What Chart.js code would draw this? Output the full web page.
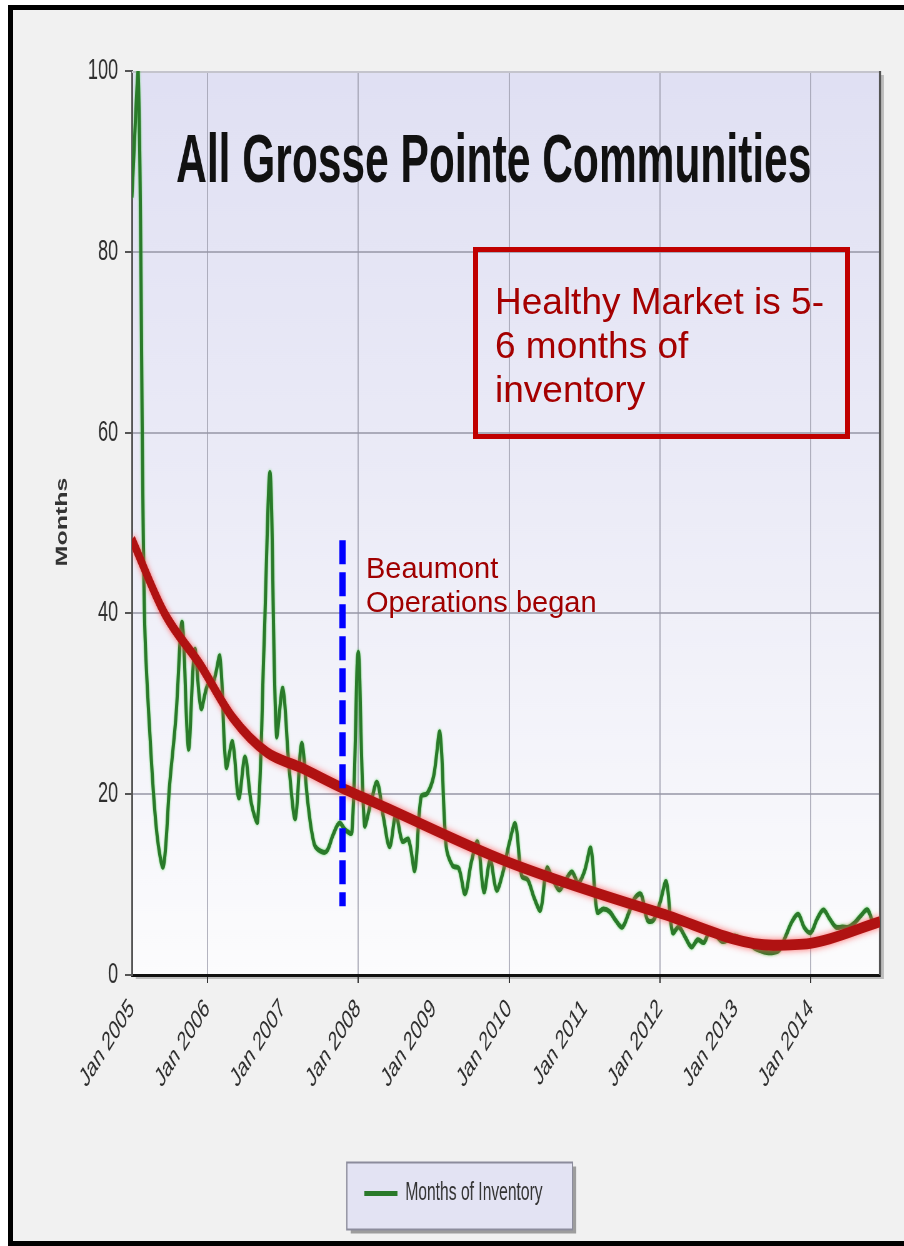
<!DOCTYPE html>
<html>
<head>
<meta charset="utf-8">
<script src="https://cdn.jsdelivr.net/npm/chart.js@4.4.1/dist/chart.umd.min.js"></script>
<style>
html,body{margin:0;padding:0;width:904px;height:1246px;overflow:hidden;background:#ffffff;}
#frame{position:absolute;left:8px;top:5px;width:910px;height:1241px;border:5px solid #000;border-right:none;background:#f1f1f1;box-sizing:border-box;}
#wrap{position:absolute;left:0;top:0;width:1446px;height:1246px;transform:scaleX(0.625);transform-origin:0 0;}
#note{position:absolute;left:473px;top:247px;width:377px;height:192px;border:5px solid #c00000;box-sizing:border-box;}
#noteText{position:absolute;left:495px;top:280px;font:37px/44px "Liberation Sans",Arial,sans-serif;color:#a50000;white-space:nowrap;}
#beau{position:absolute;left:366px;top:551px;font:29px/34.4px "Liberation Sans",Arial,sans-serif;color:#a00000;white-space:nowrap;}
</style>
</head>
<body>
<div id="frame"></div>
<div id="wrap"><canvas id="c" width="1446" height="1246" style="width:1446px;height:1246px"></canvas></div>
<div id="note"></div>
<div id="noteText">Healthy Market is 5-<br>6 months of<br>inventory</div>
<div id="beau">Beaumont<br>Operations began</div>
<script>
// ---------------- DATA ----------------
const chartTitle = 'All Grosse Pointe Communities';
const seriesName = 'Months of Inventory';
const yAxisTitle = 'Months';
// monthly months-of-inventory, Jan 2005 (index 0) ... Dec 2014
const inventory = [
  86, 100, 40, 25, 15.5, 12, 21, 28.5, 39, 25,
  36, 29.5, 32, 32.5, 35.2, 23, 25.8, 19.6, 24.1, 19,
  17, 36, 55.5, 26.5, 31.7, 23, 17.3, 25.6, 19, 14.5,
  13.7, 13.7, 15.5, 16.8, 16, 15.8, 35.7, 16.6, 19, 21.3,
  17.5, 14.2, 17.7, 14.8, 15, 11.6, 19.7, 20.1, 22, 26.8,
  14.2, 12.1, 11.8, 9, 12.5, 14.7, 9.2, 12.7, 9.4, 11.3,
  14.5, 16.7, 11, 10.5, 8.5, 7.2, 11.8, 10.5, 9.4, 10.5,
  11.4, 10.2, 11.5, 14, 7, 7.3, 7, 6, 5.3, 6.8,
  8.5, 8.9, 6.1, 6.1, 8, 10.3, 4.7, 5.3, 4.2, 3.1,
  3.9, 3.6, 5, 4.3, 3.7, 4, 4.3, 3.9, 3.6, 3,
  2.7, 2.5, 2.5, 2.8, 4.3, 5.9, 6.7, 5.2, 4.7, 6.2,
  7.2, 6.2, 5.3, 5.3, 5.3, 5.8, 6.6, 7.2, 5.8, 6
];
// hand-drawn trend curve (month index, months)
const trendMonths = [0, 5.2, 10.8, 16.1, 21.5, 26.7, 33.1, 39.5, 59.8, 83.8, 102, 107.9, 119];
const trendValues = [48.2, 40, 34.4, 28.4, 24.6, 23.0, 20.8, 18.8, 12.5, 6.9, 3.3, 3.5, 5.9];
// "Beaumont Operations began" marker
const beaumontMonth = 33.5;
const beaumontRange = [48.1, 7.6];
// x-axis ticks
const tickMonths = [0, 12, 24, 36, 48, 60, 72, 84, 96, 108];
const tickLabels = ['Jan 2005', 'Jan 2006', 'Jan 2007', 'Jan 2008', 'Jan 2009', 'Jan 2010', 'Jan 2011', 'Jan 2012', 'Jan 2013', 'Jan 2014'];
const yTicks = [0, 20, 40, 60, 80, 100];

// ---------------- STYLE ----------------
const FONT = '"Liberation Sans", Arial, sans-serif';
const GREEN = '#2a7a2a';
const RED = '#b01212';
const BLUE = '#0000ff';

const decorPlugin = {
  id: 'decor',
  beforeDraw(chart) {
    const {ctx, chartArea: a} = chart;
    ctx.save();
    ctx.fillStyle = 'rgba(0,0,0,0.22)';
    ctx.fillRect(a.left + 6, a.top + 4, a.right - a.left, a.bottom - a.top);
    const g = ctx.createLinearGradient(0, a.top, 0, a.bottom);
    g.addColorStop(0, '#e0e0f3');
    g.addColorStop(0.45, '#ebebf7');
    g.addColorStop(1, '#fcfcfd');
    ctx.fillStyle = g;
    ctx.fillRect(a.left, a.top, a.right - a.left, a.bottom - a.top);
    const lg = chart.legend;
    if (lg && lg.legendHitBoxes && lg.legendHitBoxes.length) {
      const hb = lg.legendHitBoxes[0];
      const x0 = hb.left - 28, x1 = hb.left + hb.width + 48;
      const cy = hb.top + hb.height / 2;
      const y0 = cy - 31, y1 = cy + 36;
      ctx.fillStyle = 'rgba(0,0,0,0.35)';
      ctx.fillRect(x0 + 6, y0 + 4, x1 - x0, y1 - y0);
      ctx.fillStyle = '#e3e3f3';
      ctx.fillRect(x0, y0, x1 - x0, y1 - y0);
      ctx.strokeStyle = '#8c8c9c';
      ctx.lineWidth = 2;
      ctx.strokeRect(x0, y0, x1 - x0, y1 - y0);
    }
    ctx.restore();
  },
  beforeDatasetsDraw(chart) {
    const {ctx, chartArea: a} = chart;
    ctx.save();
    ctx.strokeStyle = '#c4c4cc';
    ctx.lineWidth = 2;
    ctx.beginPath(); ctx.moveTo(a.left, a.top + 1); ctx.lineTo(a.right, a.top + 1); ctx.stroke();
    ctx.strokeStyle = '#555';
    ctx.lineWidth = 4;
    ctx.beginPath(); ctx.moveTo(a.right, a.top); ctx.lineTo(a.right, a.bottom); ctx.stroke();
    ctx.fillStyle = '#111';
    ctx.font = 'bold 68px ' + FONT;
    ctx.textAlign = 'center';
    ctx.textBaseline = 'alphabetic';
    ctx.fillText(chartTitle, 790, 182);
    ctx.translate(100, 522);
    ctx.rotate(-Math.PI / 2);
    ctx.font = 'bold 25px ' + FONT;
    ctx.textBaseline = 'middle';
    ctx.fillStyle = '#333';
    ctx.fillText(yAxisTitle, 0, 0);
    ctx.restore();
  },
  beforeDatasetDraw(chart, args) {
    const ctx = chart.ctx;
    ctx.save();
    if (args.index === 1) { ctx.shadowColor = 'rgba(255,80,80,0.85)'; ctx.shadowBlur = 7; }
    if (args.index === 2) { ctx.shadowColor = 'rgba(70,210,70,0.8)'; ctx.shadowBlur = 3; }
  },
  afterDatasetDraw(chart) {
    chart.ctx.restore();
  }
};

const ctx = document.getElementById('c').getContext('2d');
new Chart(ctx, {
  type: 'line',
  data: {
    datasets: [
      {
        label: 'Beaumont',
        data: beaumontRange.map(v => ({x: beaumontMonth, y: v})),
        borderColor: BLUE,
        borderWidth: 10,
        borderDash: [24, 8],
        borderCapStyle: 'butt',
        pointRadius: 0,
        fill: false
      },
      {
        label: 'Trend',
        data: trendMonths.map((m, i) => ({x: m, y: trendValues[i]})),
        borderColor: RED,
        borderWidth: 11,
        cubicInterpolationMode: 'monotone',
        pointRadius: 0,
        fill: false
      },
      {
        label: seriesName,
        data: inventory.map((v, i) => ({x: i, y: v})),
        borderColor: GREEN,
        backgroundColor: GREEN,
        borderWidth: 5,
        tension: 0.35,
        pointRadius: 0,
        fill: false
      }
    ]
  },
  options: {
    responsive: false,
    devicePixelRatio: 1,
    animation: false,
    events: [],
    layout: {padding: {left: 43, right: 38, top: 71, bottom: 30}},
    scales: {
      x: {
        type: 'linear',
        min: 0,
        max: 119,
        afterBuildTicks: s => { s.ticks = tickMonths.map(v => ({value: v})); },
        afterFit: s => { s.height = 196; },
        ticks: {
          autoSkip: false,
          minRotation: 45,
          maxRotation: 45,
          padding: 10,
          color: '#2e2e2e',
          font: {size: 27, family: FONT},
          callback: v => tickLabels[tickMonths.indexOf(v)]
        },
        grid: {
          lineWidth: 2,
          tickLength: 8,
          color: c => (c.tick && (c.tick.value / 12) % 2 === 1) ? 'rgba(150,150,165,0.7)' : 'rgba(0,0,0,0)',
          tickColor: c => (c.tick && (c.tick.value / 12) % 2 === 1) ? '#333' : 'rgba(0,0,0,0)'
        },
        border: {color: '#111', width: 3}
      },
      y: {
        min: 0,
        max: 100,
        afterBuildTicks: s => { s.ticks = yTicks.map(v => ({value: v})); },
        afterFit: s => { s.width = 168; },
        ticks: {
          padding: 11,
          color: '#2e2e2e',
          font: {size: 29, family: FONT}
        },
        grid: {
          lineWidth: 2,
          tickLength: 11,
          tickColor: '#555',
          color: c => (c.tick && (c.tick.value === 0 || c.tick.value === 100)) ? 'rgba(0,0,0,0)' : 'rgba(150,150,165,0.75)'
        },
        border: {color: '#555', width: 3}
      }
    },
    plugins: {
      title: {display: false},
      tooltip: {enabled: false},
      legend: {
        display: true,
        position: 'bottom',
        labels: {
          boxWidth: 53,
          boxHeight: 5,
          padding: 10,
          color: '#333',
          font: {size: 25, family: FONT},
          generateLabels: chart => Chart.defaults.plugins.legend.labels.generateLabels(chart)
            .filter(it => it.datasetIndex === 2)
            .map(it => Object.assign(it, {lineWidth: 0, fillStyle: GREEN, strokeStyle: GREEN}))
        }
      }
    }
  },
  plugins: [decorPlugin]
});
</script>
</body>
</html>
